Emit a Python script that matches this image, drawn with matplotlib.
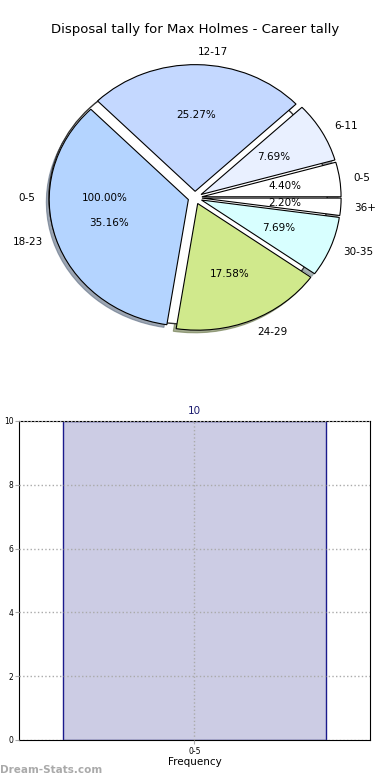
import numpy as np
import matplotlib
matplotlib.use('Agg')
import matplotlib.pyplot as plt

# pie data (career disposal tally)
pie_labels = ['0-5', '6-11', '12-17', '18-23', '24-29', '30-35', '36+']
pie_counts = [4, 7, 23, 32, 16, 7, 2]
pie_colors = ['#ffffff', '#e9f0ff', '#c4d8ff', '#b4d4ff', '#d0e98c', '#d8ffff', '#ffffff']

# histogram data
bar_labels = ['0-5']
bar_values = [10]

fig = plt.figure(figsize=(3.9, 7.8), dpi=100)

# ---- pie ----
ax1 = fig.add_axes([0.054, 0.5436, 0.892, 0.406])
# stray single-wedge pie underneath (as in the original)
ax1.pie([bar_values[0]], labels=bar_labels, explode=[0.05], colors=['#ffffff'],
        autopct='%1.2f%%', wedgeprops=dict(edgecolor='#333333', linewidth=1),
        textprops=dict(fontsize=7.5), frame=False)
ax1.pie(pie_counts, labels=pie_labels, explode=[0.05] * len(pie_counts), colors=pie_colors,
        autopct='%1.2f%%', shadow=dict(ox=-0.015, oy=-0.015, shade=0.5, alpha=0.6), startangle=0,
        wedgeprops=dict(edgecolor='black', linewidth=0.8),
        textprops=dict(fontsize=7.5), frame=False)
ax1.set_aspect('auto')
ax1.set_xlim(-1.25, 1.25)
ax1.set_ylim(-1.25, 1.25)
fig.text(0.5, 1 - 30 / 780, 'Disposal tally for Max Holmes - Career tally',
         ha='center', va='center', fontsize=9.5)

# ---- bar ----
ax2 = fig.add_axes([0.0487, 0.0513, 0.9, 0.409])
x = np.arange(len(bar_labels))
bars = ax2.bar(x, bar_values, width=0.75, color='#ccccE4', edgecolor='#1a1a8c', linewidth=1)
for b, v in zip(bars, bar_values):
    ax2.text(b.get_x() + b.get_width() / 2, v + 0.15, str(v), ha='center', va='bottom',
             fontsize=7.5, color='#1a1a6e')
ax2.set_xlim(-0.5, 0.5)
ax2.set_ylim(0, 10)
ax2.set_xticks(x)
ax2.set_xticklabels(bar_labels, fontsize=5.5)
ax2.set_yticks(range(0, 11, 2))
ax2.tick_params(axis='y', labelsize=5.5, length=3, color='#aaaaaa', pad=1)
ax2.tick_params(axis='x', length=3, color='#aaaaaa', pad=2)
ax2.grid(True, linestyle=':', color='#aaaaaa', linewidth=1)
ax2.set_axisbelow(False)
ax2.set_xlabel('Frequency', fontsize=7.5, labelpad=1)
fig.text(-0.006, 0.27, 'Number of Games', rotation=90, ha='center', va='center', fontsize=7)

fig.text(0.0, 1 - 770 / 780, 'Dream-Stats.com', ha='left', va='center', fontsize=7.5,
         color='#aaaaaa', fontweight='bold')

fig.savefig('out.png', dpi=100)
